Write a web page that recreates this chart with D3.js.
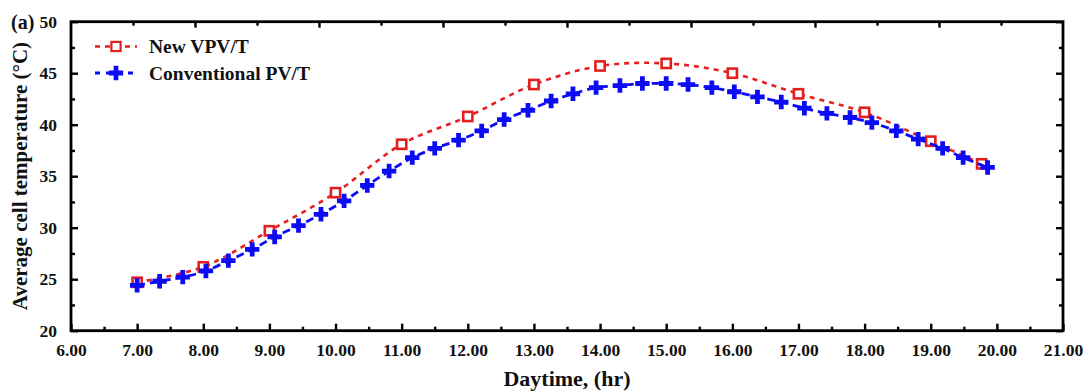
<!DOCTYPE html>
<html>
<head>
<meta charset="utf-8">
<script src="https://cdn.jsdelivr.net/npm/d3@7"></script>
<style>
  html, body { margin: 0; padding: 0; background: #fff; }
  svg { display: block; }
  svg text { font-family: "Liberation Serif", "Times New Roman", serif !important; font-weight: bold; }
</style>
</head>
<body>
<svg id="chart" width="1090" height="392"></svg>
<script>
// ---- data ----
const vpvHours = [7, 8, 9, 10, 11, 12, 13, 14, 15, 16, 17, 18, 19, 19.77];
const vpvTemp  = [24.7, 26.2, 29.7, 33.4, 38.1, 40.8, 43.9, 45.7, 45.95, 45.0, 43.0, 41.2, 38.4, 36.2];

const pvtHours = [7.0, 7.34, 7.69, 8.04, 8.38, 8.74, 9.08, 9.44, 9.78, 10.13, 10.48, 10.81, 11.16, 11.5, 11.86, 12.21, 12.55, 12.91, 13.26, 13.59, 13.94, 14.3, 14.64, 15.0, 15.33, 15.69, 16.03, 16.38, 16.74, 17.09, 17.43, 17.78, 18.11, 18.48, 18.81, 19.18, 19.49, 19.86];
const pvtTemp  = [24.4, 24.8, 25.2, 25.8, 26.8, 27.9, 29.1, 30.2, 31.3, 32.6, 34.1, 35.5, 36.8, 37.7, 38.5, 39.4, 40.5, 41.4, 42.3, 43.0, 43.6, 43.8, 44.0, 44.0, 43.9, 43.6, 43.2, 42.7, 42.2, 41.6, 41.1, 40.7, 40.2, 39.4, 38.6, 37.7, 36.8, 35.85];

const xTicks = [6, 7, 8, 9, 10, 11, 12, 13, 14, 15, 16, 17, 18, 19, 20, 21];
const yTicks = [20, 25, 30, 35, 40, 45, 50];
const seriesNames = ["New VPV/T", "Conventional PV/T"];

// ---- layout ----
const svg = d3.select("#chart");
const L = 71, R = 1063, T = 21.7, B = 330.7;
const red = "#e41f1f", blue = "#0b0bf5";
const FONT = "'Liberation Serif', 'Times New Roman', serif";

const x = d3.scaleLinear().domain([6, 21]).range([L, R]);
const y = d3.scaleLinear().domain([20, 50]).range([B, T]);
const xTop = d3.scaleLinear().domain([0, 16]).range([L, R]);

const tickW = 2.4;
const xMinor = d3.range(6.5, 21, 1);
const yMinor = d3.range(22.5, 50, 5);

const bottomAx = d3.axisBottom(x).tickValues(xTicks).tickFormat(d3.format(".2f")).tickSizeInner(-7).tickSizeOuter(0).tickPadding(12);
const gB = svg.append("g").attr("transform", `translate(0,${B})`).call(bottomAx)
  .attr("font-family", FONT).attr("font-size", 17.5).attr("font-weight", "bold");
gB.select(".domain").remove();
gB.selectAll("text").attr("fill", "#111").attr("dy", "0.75em");
svg.append("g").attr("transform", `translate(0,${B})`).call(d3.axisBottom(x).tickValues(xMinor).tickSizeInner(-4).tickSizeOuter(0).tickFormat(""))
  .select(".domain").remove();

const leftAx = d3.axisLeft(y).tickValues(yTicks).tickFormat(d3.format("d")).tickSizeInner(-7).tickSizeOuter(0).tickPadding(14);
const gL = svg.append("g").attr("transform", `translate(${L},0)`).call(leftAx)
  .attr("font-family", FONT).attr("font-size", 17.5).attr("font-weight", "bold");
gL.select(".domain").remove();
gL.selectAll("text").attr("fill", "#111");
svg.append("g").attr("transform", `translate(${L},0)`).call(d3.axisLeft(y).tickValues(yMinor).tickSizeInner(-4).tickSizeOuter(0).tickFormat(""))
  .select(".domain").remove();

svg.append("g").attr("transform", `translate(${R},0)`).call(d3.axisRight(y).tickValues(yTicks).tickSizeInner(-7).tickSizeOuter(0).tickFormat(""))
  .select(".domain").remove();
svg.append("g").attr("transform", `translate(${R},0)`).call(d3.axisRight(y).tickValues(yMinor).tickSizeInner(-4).tickSizeOuter(0).tickFormat(""))
  .select(".domain").remove();

svg.append("g").attr("transform", `translate(0,${T})`).call(d3.axisTop(xTop).tickValues(d3.range(2, 16, 2)).tickSizeInner(-6).tickSizeOuter(0).tickFormat(""))
  .select(".domain").remove();
svg.append("g").attr("transform", `translate(0,${T})`).call(d3.axisTop(xTop).tickValues(d3.range(1, 16, 2)).tickSizeInner(-4).tickSizeOuter(0).tickFormat(""))
  .select(".domain").remove();

svg.selectAll(".tick line").attr("stroke", "#000").attr("stroke-width", tickW);

// frame
svg.append("rect").attr("x", L).attr("y", T).attr("width", R - L).attr("height", B - T)
  .attr("fill", "none").attr("stroke", "#000").attr("stroke-width", 2.8);

// ---- series ----
const vpv = vpvHours.map((h, i) => [h, vpvTemp[i]]);
const pvt = pvtHours.map((h, i) => [h, pvtTemp[i]]);
const line = d3.line().x(d => x(d[0])).y(d => y(d[1])).curve(d3.curveCatmullRom.alpha(0.5));

svg.append("path").datum(vpv).attr("d", line).attr("fill", "none")
  .attr("stroke", red).attr("stroke-width", 2.6).attr("stroke-dasharray", "5,5");
svg.append("g").selectAll("rect").data(vpv).join("rect")
  .attr("x", d => x(d[0]) - 4.6).attr("y", d => y(d[1]) - 4.6).attr("width", 9.2).attr("height", 9.2)
  .attr("fill", "#fff").attr("stroke", red).attr("stroke-width", 2.6);

svg.append("path").datum(pvt).attr("d", line).attr("fill", "none")
  .attr("stroke", blue).attr("stroke-width", 2.8).attr("stroke-dasharray", "8,5");
const cross = d3.symbol().type(d3.symbolCross).size(115);
svg.append("g").selectAll("path").data(pvt).join("path")
  .attr("d", cross).attr("transform", d => `translate(${x(d[0])},${y(d[1])})`)
  .attr("fill", blue);

// ---- legend ----
const lg = svg.append("g");
const legY = [46.5, 73];
lg.append("line").attr("x1", 95).attr("x2", 137).attr("y1", legY[0]).attr("y2", legY[0])
  .attr("stroke", red).attr("stroke-width", 2.6).attr("stroke-dasharray", "5,5");
lg.append("rect").attr("x", 116 - 4.6).attr("y", legY[0] - 4.6).attr("width", 9.2).attr("height", 9.2)
  .attr("fill", "#fff").attr("stroke", red).attr("stroke-width", 2.2);
lg.append("line").attr("x1", 95).attr("x2", 137).attr("y1", legY[1]).attr("y2", legY[1])
  .attr("stroke", blue).attr("stroke-width", 2.8).attr("stroke-dasharray", "5,6");
lg.append("path").attr("d", cross).attr("transform", `translate(116,${legY[1]})`).attr("fill", blue);
lg.selectAll("text").data(seriesNames).join("text")
  .attr("x", 149).attr("y", (d, i) => legY[i] + 6.5)
  .attr("font-size", 19.5).attr("fill", "#111").text(d => d);

// ---- titles ----
svg.append("text").attr("x", (L + R) / 2).attr("y", 386).attr("text-anchor", "middle")
  .attr("font-size", 22).attr("fill", "#111").text("Daytime, (hr)");
svg.append("text").attr("transform", "translate(27,176) rotate(-90)").attr("text-anchor", "middle")
  .attr("font-size", 21).attr("fill", "#111").text("Average cell temperature (°C)");
svg.append("text").attr("x", 11).attr("y", 29).attr("font-size", 20).attr("fill", "#111").text("(a)");
</script>
</body>
</html>
